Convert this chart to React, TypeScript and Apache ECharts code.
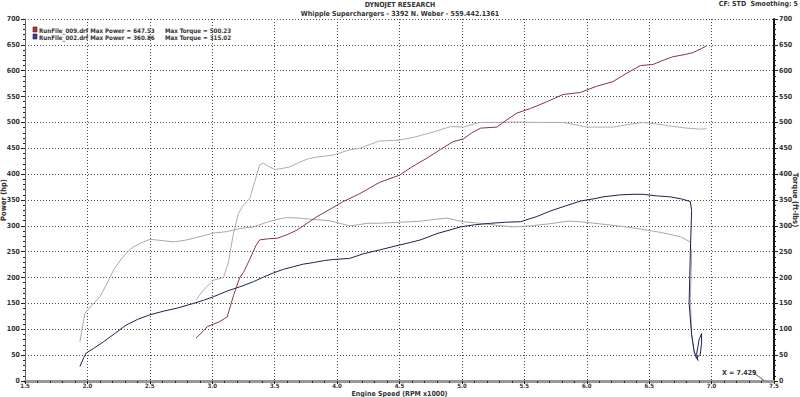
import React, { useEffect, useRef } from "react";
import * as echarts from "echarts";

const FONT = "'DejaVu Sans Condensed', 'DejaVu Sans', sans-serif";

const titleMain = "DYNOJET RESEARCH";
const titleSub = "Whipple Superchargers - 3392 N. Weber - 559.442.1361";
const cornerNote = "CF: STD  Smoothing: 5";
const xAxisName = "Engine Speed (RPM x1000)";
const leftAxisName = "Power (hp)";
const rightAxisName = "Torque (ft-lbs)";
const annotationText = "X = 7.429";

const legendFiles = ["RunFile_009.drf", "RunFile_002.drf"];
const legendPower = ["647.53", "360.86"];
const legendTorque = ["500.23", "315.02"];
const legendColors = ["#c0303a", "#3040b0"];

const power009: number[][] = [
  [2.87, 83], [2.93, 97], [2.96, 105], [3.01, 110], [3.06, 115], [3.12, 124], [3.17, 165], [3.22, 200],
  [3.25, 210], [3.3, 235], [3.35, 262], [3.38, 273], [3.45, 275], [3.52, 276], [3.6, 283], [3.68, 292],
  [3.76, 305], [3.84, 318], [3.95, 333], [4.05, 347], [4.18, 362], [4.34, 384], [4.5, 398], [4.6, 414],
  [4.72, 431], [4.83, 448], [4.93, 463], [5.01, 468], [5.08, 480], [5.15, 489], [5.28, 491], [5.36, 505],
  [5.44, 518], [5.55, 527], [5.68, 540], [5.81, 554], [5.95, 558], [6.08, 570], [6.21, 579], [6.32, 595],
  [6.43, 610], [6.53, 612], [6.61, 620], [6.69, 627], [6.78, 631], [6.85, 635], [6.92, 643], [6.96, 648],
];

const torque009: number[][] = [
  [2.87, 157], [2.93, 176], [3.01, 195], [3.09, 200], [3.13, 230], [3.17, 286], [3.21, 324], [3.25, 340],
  [3.3, 353], [3.34, 385], [3.38, 418], [3.41, 421], [3.45, 415], [3.5, 409], [3.56, 411], [3.62, 414],
  [3.7, 423], [3.77, 430], [3.84, 433], [3.97, 437], [4.1, 447], [4.18, 450], [4.26, 457], [4.34, 464],
  [4.5, 466], [4.61, 471], [4.75, 480], [4.91, 492], [5.01, 491], [5.08, 496], [5.15, 500], [5.28, 500],
  [5.41, 501], [5.6, 500], [5.81, 500], [5.92, 495], [6.0, 491], [6.21, 491], [6.33, 496], [6.45, 500],
  [6.56, 497], [6.67, 493], [6.8, 489], [6.91, 487], [6.96, 488],
];

const power002: number[][] = [
  [1.94, 28], [1.97, 45], [1.99, 54], [2.05, 63], [2.13, 76], [2.22, 92], [2.31, 108], [2.4, 119],
  [2.5, 128], [2.61, 135], [2.72, 141], [2.85, 150], [2.93, 156], [3.01, 163], [3.06, 168], [3.12, 174],
  [3.22, 182], [3.33, 192], [3.41, 201], [3.49, 209], [3.57, 216], [3.65, 221], [3.73, 226], [3.81, 229],
  [3.9, 233], [3.97, 235], [4.1, 237], [4.21, 246], [4.35, 254], [4.5, 263], [4.59, 268], [4.67, 273],
  [4.8, 285], [4.99, 298], [5.1, 302], [5.23, 305], [5.35, 307], [5.47, 308], [5.6, 318], [5.7, 328],
  [5.81, 337], [5.95, 348], [6.05, 352], [6.13, 356], [6.27, 360], [6.37, 361], [6.45, 361], [6.56, 358],
  [6.67, 356], [6.76, 352], [6.83, 347], [6.84, 330], [6.83, 250], [6.82, 150], [6.84, 90], [6.86, 58],
  [6.88, 44], [6.91, 52], [6.92, 75], [6.92, 92], [6.9, 80], [6.88, 52], [6.89, 40],
];

const torque002: number[][] = [
  [1.94, 76], [1.96, 105], [1.98, 131], [2.03, 145], [2.1, 163], [2.16, 190], [2.21, 215], [2.26, 232],
  [2.31, 247], [2.36, 258], [2.42, 266], [2.5, 274], [2.58, 272], [2.69, 269], [2.78, 272], [2.85, 276],
  [2.93, 281], [3.01, 286], [3.12, 289], [3.22, 295], [3.33, 298], [3.45, 308], [3.55, 314], [3.6, 316],
  [3.7, 315], [3.78, 313], [3.94, 310], [4.02, 305], [4.1, 300], [4.17, 302], [4.24, 305], [4.34, 305],
  [4.5, 307], [4.67, 309], [4.8, 313], [4.88, 315], [5.01, 308], [5.15, 305], [5.28, 301], [5.41, 298],
  [5.55, 300], [5.7, 304], [5.85, 309], [5.95, 308], [6.1, 304], [6.25, 300], [6.4, 295], [6.48, 292],
  [6.6, 287], [6.75, 279], [6.83, 269], [6.84, 240], [6.83, 160], [6.84, 90], [6.86, 55], [6.88, 42],
  [6.9, 38],
];

const annotationArrow: number[][] = [[7.33, 17], [7.42, 1]];

const gridColor = "#4a4a4a";
const textColor = "#333";

export default function App() {
  const ref = useRef<HTMLDivElement>(null);
  useEffect(() => {
    if (!ref.current) return;
    const chart = echarts.init(ref.current, undefined, { renderer: "svg" });
    const axisLabel = { fontFamily: FONT, fontSize: 7, color: textColor, fontWeight: "bold" as const };
    const yCommon = {
      type: "value" as const,
      min: 0,
      max: 700,
      interval: 50,
      nameLocation: "middle" as const,
      nameMoveOverlap: false,
      nameTextStyle: { fontFamily: FONT, fontSize: 7.5, color: textColor, fontWeight: "bold" as const },
      axisTick: { show: true, length: 4, lineStyle: { color: "#222" } },
      minorTick: { show: true, splitNumber: 5, length: 2, lineStyle: { color: "#222" } },
      axisLabel: { ...axisLabel, margin: 5 },
    };
    const graphic: any[] = [
      { type: "text", x: 400, y: 5, style: { text: titleMain, font: `bold 7px ${FONT}`, fill: textColor, textAlign: "center", textVerticalAlign: "middle" } },
      { type: "text", x: 400, y: 14, style: { text: titleSub, font: `bold 7px ${FONT}`, fill: textColor, textAlign: "center", textVerticalAlign: "middle" } },
      { type: "text", x: 798, y: 4, style: { text: cornerNote, font: `bold 7px ${FONT}`, fill: textColor, textAlign: "right", textVerticalAlign: "middle" } },
      { type: "text", x: 722, y: 373, style: { text: annotationText, font: `bold 7px ${FONT}`, fill: textColor, textAlign: "left", textVerticalAlign: "middle" } },
    ];
    legendFiles.forEach((f, i) => {
      const y = 30 + i * 7;
      graphic.push({ type: "rect", shape: { x: 33, y: y - 3, width: 4, height: 5 }, style: { fill: legendColors[i], stroke: "#222", lineWidth: 0.6 } });
      graphic.push({ type: "text", x: 39, y, style: { text: `${f} Max Power = ${legendPower[i]}`, font: `bold 6.2px ${FONT}`, fill: textColor, textVerticalAlign: "middle" } });
      graphic.push({ type: "text", x: 165, y, style: { text: `Max Torque = ${legendTorque[i]}`, font: `bold 6.2px ${FONT}`, fill: textColor, textVerticalAlign: "middle" } });
    });
    chart.setOption({
      animation: false,
      backgroundColor: "#fff",
      grid: { left: 25, right: 26, top: 19, bottom: 16, containLabel: false, outerBoundsMode: "none" },
      xAxis: {
        type: "value",
        min: 1.5,
        max: 7.5,
        interval: 0.5,
        name: xAxisName,
        nameLocation: "middle",
        nameMoveOverlap: false,
        nameGap: 9,
        nameTextStyle: { fontFamily: FONT, fontSize: 7, color: textColor, fontWeight: "bold", verticalAlign: "top", lineHeight: 7 },
        axisLine: { show: true, lineStyle: { color: "#999", width: 3 } },
        axisTick: { show: true, length: 3, lineStyle: { color: "#222" } },
        minorTick: { show: true, splitNumber: 5, length: 2, lineStyle: { color: "#222" } },
        axisLabel: { ...axisLabel, fontSize: 6, lineHeight: 6, margin: 1, formatter: (v: number) => v.toFixed(1) },
        splitLine: { show: true, lineStyle: { color: gridColor, type: [1, 2], width: 1 } },
      },
      yAxis: [
        {
          ...yCommon,
          position: "left",
          name: leftAxisName,
          nameGap: 18,
          axisLine: { show: true, lineStyle: { color: "#666", width: 1 } },
          splitLine: { show: true, lineStyle: { color: gridColor, type: [1, 2], width: 1 } },
        },
        {
          ...yCommon,
          position: "right",
          name: rightAxisName,
          nameGap: 17,
          nameRotate: -90,
          axisLine: { show: true, lineStyle: { color: "#111", width: 2 } },
          splitLine: { show: false },
        },
      ],
      graphic,
      series: [
        { type: "line", data: torque002, yAxisIndex: 1, showSymbol: false, symbol: "none", lineStyle: { color: "#a8a8a8", width: 1 }, z: 2 },
        { type: "line", data: torque009, yAxisIndex: 1, showSymbol: false, symbol: "none", lineStyle: { color: "#b8a8ae", width: 1 }, z: 2 },
        { type: "line", data: power002, yAxisIndex: 0, showSymbol: false, symbol: "none", lineStyle: { color: "#1e2050", width: 1 }, z: 3 },
        { type: "line", data: power009, yAxisIndex: 0, showSymbol: false, symbol: "none", lineStyle: { color: "#8a3444", width: 1 }, z: 3 },
        { type: "line", data: annotationArrow, yAxisIndex: 0, showSymbol: false, symbol: "none", lineStyle: { color: "#333", width: 0.8 }, z: 4 },
      ],
    });
    return () => chart.dispose();
  }, []);
  return <div ref={ref} style={{ position: "fixed", left: 0, top: 0, width: 800, height: 397 }} />;
}
